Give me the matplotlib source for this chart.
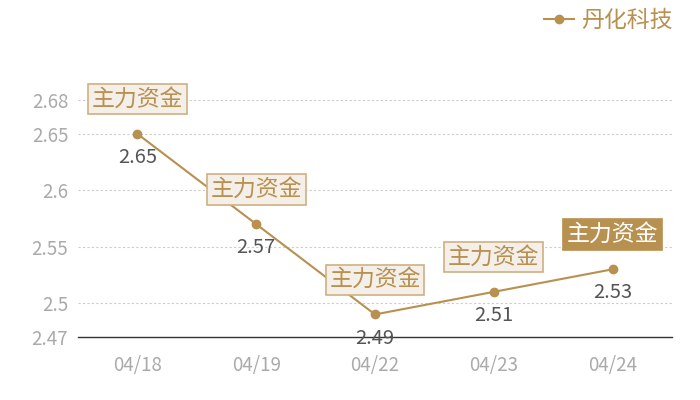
import matplotlib
matplotlib.use("Agg")
import matplotlib.pyplot as plt

plt.rcParams['font.family'] = ['Noto Sans CJK SC', 'DejaVu Sans']

# data
dates = ["04/18", "04/19", "04/22", "04/23", "04/24"]
values = [2.65, 2.57, 2.49, 2.51, 2.53]
series_name = "丹化科技"
tag = "主力资金"
y_ticks = [2.47, 2.5, 2.55, 2.6, 2.65, 2.68]
y_tick_labels = ["2.47", "2.5", "2.55", "2.6", "2.65", "2.68"]

gold = "#b8904f"

fig = plt.figure(figsize=(7, 4), dpi=100)
ax = fig.add_axes([0.1114, 0.1575, 0.8486, 0.5925])

x = list(range(len(dates)))
line, = ax.plot(x, values, color=gold, lw=1.5, marker="o", ms=6, label=series_name)

ax.set_xlim(-0.5, len(dates) - 0.5)
ax.set_ylim(2.47, 2.68)
ax.set_yticks(y_ticks)
ax.set_yticklabels(y_tick_labels)
ax.set_xticks(x)
ax.set_xticklabels(dates)
ax.tick_params(length=0, labelsize=13.5, labelcolor="#aaaaaa")
ax.tick_params(axis="x", pad=13)
ax.tick_params(axis="y", pad=7)

for yv in y_ticks[1:]:
    ax.axhline(yv, color="#cccccc", lw=0.8, ls=(0, (2, 2)), zorder=0)

for s in ["top", "right", "left"]:
    ax.spines[s].set_visible(False)
ax.spines["bottom"].set_color("#333333")
ax.spines["bottom"].set_linewidth(1)

# value labels and tags
for i, v in enumerate(values):
    ax.annotate(f"{v:g}", (i, v), xytext=(0, -17), textcoords="offset points",
                ha="center", va="center", fontsize=14.5, color="#555555")
    last = i == len(values) - 1
    ax.annotate(tag, (i, v), xytext=(0, 25), textcoords="offset points",
                ha="center", va="center", fontsize=16.5,
                color="white" if last else gold,
                bbox=dict(boxstyle="square,pad=0.16",
                          fc=gold if last else "#f4efe8",
                          ec=gold if last else "#d0b080", lw=1.2),
                zorder=5)

fig.legend(handles=[line], labels=[series_name], loc="upper right",
           bbox_to_anchor=(0.99, 1.03), frameon=False, fontsize=16.5,
           labelcolor=gold, handlelength=1.3, handletextpad=0.3)

fig.savefig("out.png", dpi=100)
